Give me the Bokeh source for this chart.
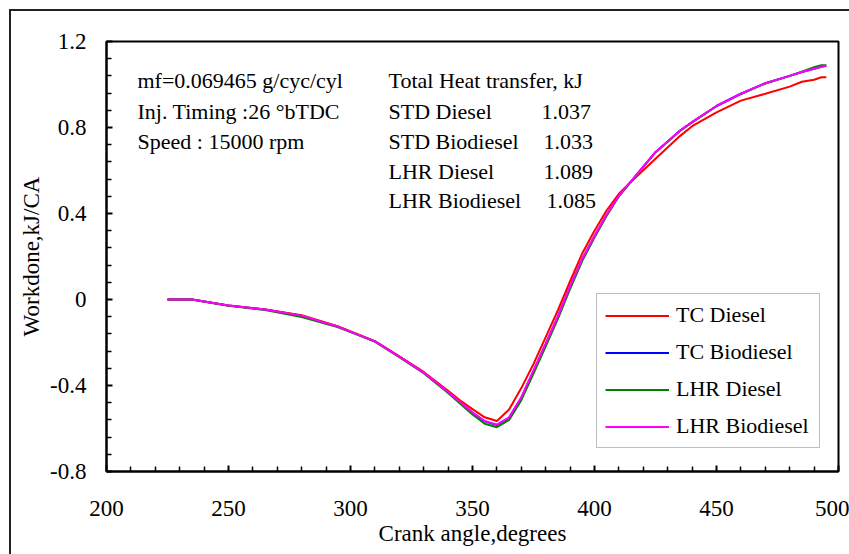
from bokeh.plotting import figure
from bokeh.models import (FixedTicker, CustomJSTickFormatter, Legend, LegendItem,
                          Label, Range1d, InlineStyleSheet)
from bokeh.embed import file_html
from bokeh.resources import INLINE

# ---------------- data ----------------
crank_angle = [225, 235, 250, 265, 280, 295, 310, 320, 330, 340, 345, 350, 355, 360, 365,
               370, 375, 380, 385, 390, 395, 400, 405, 410, 415, 425, 435, 440, 450, 460,
               470, 480, 485, 490, 493, 495]

tc_diesel = [0, 0, -0.028, -0.047, -0.073, -0.125, -0.194, -0.264, -0.337, -0.425, -0.470,
             -0.510, -0.548, -0.565, -0.512, -0.412, -0.300, -0.175, -0.050, 0.085, 0.215,
             0.320, 0.415, 0.492, 0.548, 0.655, 0.760, 0.806, 0.870, 0.925, 0.957, 0.990,
             1.013, 1.022, 1.034, 1.034]

tc_biodiesel = [0, 0, -0.028, -0.047, -0.076, -0.127, -0.195, -0.266, -0.340, -0.431, -0.479,
                -0.527, -0.567, -0.584, -0.550, -0.457, -0.332, -0.207, -0.080, 0.060, 0.188,
                0.294, 0.394, 0.482, 0.549, 0.685, 0.785, 0.825, 0.900, 0.957, 1.006, 1.040,
                1.058, 1.073, 1.082, 1.087]

lhr_diesel = [0, 0, -0.029, -0.049, -0.082, -0.129, -0.196, -0.268, -0.343, -0.435, -0.485,
              -0.535, -0.578, -0.594, -0.560, -0.468, -0.345, -0.218, -0.090, 0.050, 0.180,
              0.288, 0.390, 0.480, 0.548, 0.684, 0.784, 0.824, 0.899, 0.956, 1.005, 1.040,
              1.060, 1.080, 1.090, 1.090]

lhr_biodiesel = [0, 0, -0.028, -0.047, -0.075, -0.127, -0.195, -0.266, -0.340, -0.430, -0.478,
                 -0.525, -0.565, -0.582, -0.548, -0.455, -0.330, -0.205, -0.078, 0.062, 0.190,
                 0.295, 0.395, 0.483, 0.550, 0.686, 0.785, 0.825, 0.900, 0.957, 1.006, 1.040,
                 1.058, 1.073, 1.082, 1.088]

series_names = ["TC Diesel", "TC Biodiesel", "LHR Diesel", "LHR Biodiesel"]
series_colors = ["#FF0000", "#0000FF", "#008000", "#FF00FF"]

x_major_ticks = [200, 250, 300, 350, 400, 450, 500]
y_major_ticks = [-0.8, -0.4, 0, 0.4, 0.8, 1.2]

info_left = ["mf=0.069465 g/cyc/cyl", "Inj. Timing :26 \u00b0bTDC", "Speed : 15000 rpm"]
heat_title = "Total Heat transfer, kJ"
heat_names = ["STD Diesel", "STD Biodiesel", "LHR Diesel", "LHR Biodiesel"]
heat_values = ["1.037", "1.033", "1.089", "1.085"]

x_title = "Crank angle,degrees"
y_title = "Workdone,kJ/CA"

# ---------------- layout ----------------
FONT = "Liberation Serif"
X0, X1, Y0, Y1 = 200, 500, -0.8, 1.2
FL, FT, FR, FB = 106, 41, 838, 471   # frame in page pixels
DXPX = (X1 - X0) / (FR - FL)
DYPX = (Y1 - Y0) / (FB - FT)

def px_to_x(px):
    return X0 + (px - FL) * DXPX

def py_to_y(py):
    return Y1 - (py - FT) * DYPX

x_minor = []
for a, b in zip(x_major_ticks[:-1], x_major_ticks[1:]):
    x_minor += [a + (b - a) * k / 5 for k in range(1, 5)]
y_minor = []
for a, b in zip(y_major_ticks[:-1], y_major_ticks[1:]):
    y_minor += [round(a + (b - a) * k / 5, 4) for k in range(1, 5)]

p = figure(frame_width=FR - FL, frame_height=FB - FT,
           min_border_left=FL - 11, min_border_top=FT - 11,
           min_border_right=849 - FR, min_border_bottom=554 - FB,
           x_range=Range1d(X0, X1), y_range=Range1d(Y0, Y1),
           output_backend="svg", toolbar_location=None)

p.stylesheets.append(InlineStyleSheet(css=":host { margin-left: 9px; margin-top: 9px; "
                                          "border-left: 2px solid #222; border-top: 2px solid #222; "
                                          "box-sizing: content-box; }"))

p.background_fill_color = "white"
p.border_fill_color = "white"
p.outline_line_color = "black"
p.outline_line_width = 2
p.xgrid.visible = False
p.ygrid.visible = False

p.xaxis.ticker = FixedTicker(ticks=x_major_ticks, minor_ticks=x_minor)
p.yaxis.ticker = FixedTicker(ticks=y_major_ticks, minor_ticks=y_minor)
p.yaxis.formatter = CustomJSTickFormatter(code="return String(Math.round(tick * 10) / 10);")
MAJ, MIN = 6, 5
for ax in (p.xaxis[0], p.yaxis[0]):
    ax.axis_line_width = 2
    ax.axis_line_color = "black"
    ax.major_tick_in = MAJ
    ax.major_tick_out = 0
    ax.minor_tick_in = MIN
    ax.minor_tick_out = 0
    ax.major_tick_line_width = 2
    ax.major_tick_line_color = "black"
    ax.minor_tick_line_width = 1.5
    ax.minor_tick_line_color = "black"
    ax.major_label_text_font = FONT
    ax.major_label_text_font_size = "23px"
    ax.major_label_text_color = "black"
    ax.axis_label_text_font = FONT
    ax.axis_label_text_font_size = "23px"
    ax.axis_label_text_font_style = "normal"
    ax.axis_label_text_color = "black"

p.xaxis.axis_label = x_title
p.yaxis.axis_label = y_title
p.yaxis.major_label_standoff = 20
p.xaxis.major_label_standoff = 29
p.yaxis.axis_label_standoff = 3
p.xaxis.axis_label_standoff = 2

series = [tc_diesel, tc_biodiesel, lhr_diesel, lhr_biodiesel]
renderers = {}
draw_order = [1, 0, 2, 3]
for i in draw_order:
    renderers[i] = p.line(crank_angle, series[i], line_color=series_colors[i], line_width=2)

legend = Legend(items=[LegendItem(label=series_names[i], renderers=[renderers[i]]) for i in range(4)],
                location=(596 - FL, FB - 448), orientation="vertical",
                padding=8, spacing=11, margin=0,
                glyph_width=64, glyph_height=25, label_height=25, label_width=135,
                label_standoff=7,
                label_text_font=FONT, label_text_font_size="22px", label_text_color="black",
                border_line_color="#7f7f7f", border_line_width=1.5,
                background_fill_color="white", background_fill_alpha=1)
p.add_layout(legend, "center")

rows_py = [80, 111, 141, 171, 200]
TS = "22px"
for k, t in enumerate(info_left):
    p.add_layout(Label(x=px_to_x(137), y=py_to_y(rows_py[k]), text=t, text_font=FONT,
                       text_font_size=TS, text_baseline="alphabetic", text_color="black"))
p.add_layout(Label(x=px_to_x(388), y=py_to_y(rows_py[0]), text=heat_title, text_font=FONT,
                   text_font_size=TS, text_baseline="alphabetic", text_color="black"))
val_px = [541, 543, 543, 546]
for k in range(4):
    p.add_layout(Label(x=px_to_x(388), y=py_to_y(rows_py[k + 1]), text=heat_names[k],
                       text_font=FONT, text_font_size=TS, text_baseline="alphabetic",
                       text_color="black"))
    p.add_layout(Label(x=px_to_x(val_px[k]), y=py_to_y(rows_py[k + 1]), text=heat_values[k],
                       text_font=FONT, text_font_size=TS, text_baseline="alphabetic",
                       text_color="black"))

open("out.html", "w").write(file_html(p, INLINE))
